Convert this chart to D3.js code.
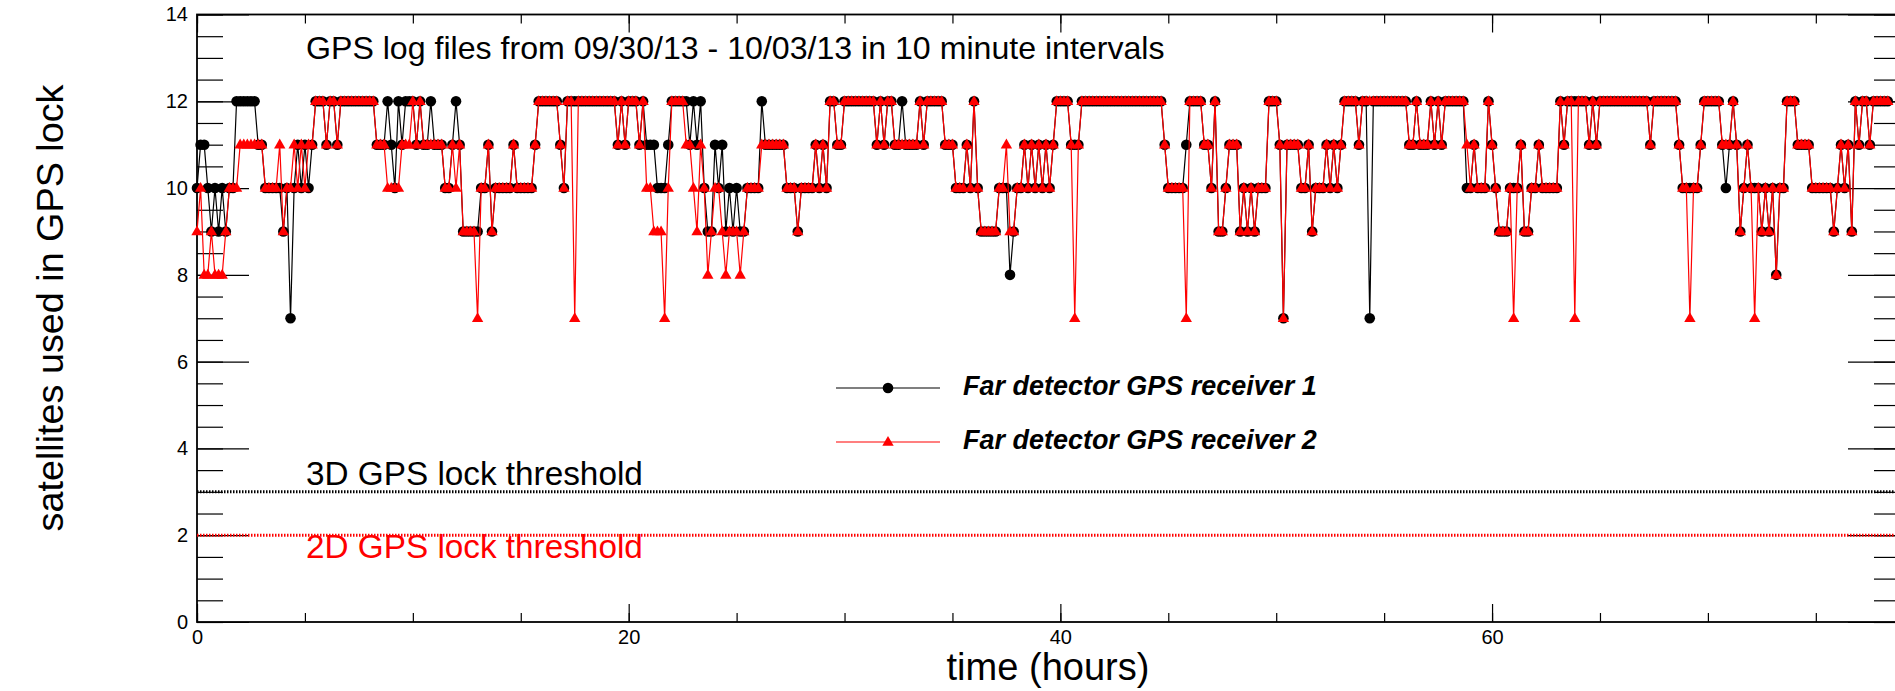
<!DOCTYPE html>
<html>
<head>
<meta charset="utf-8">
<script src="https://cdnjs.cloudflare.com/ajax/libs/d3/7.8.5/d3.min.js"></script>
<style>
  body { margin: 0; background: #fff; overflow: hidden; }
  text { font-family: "Liberation Sans", Arial, Helvetica, sans-serif; }
</style>
</head>
<body>
<script>
// satellites used in GPS lock, read every 10 minutes (1/6 hour) for ~78 hours
const stepHours = 1 / 6;

// Far detector GPS receiver 1 (black circles)
const receiver1 = [
  10,11,11,10,9,10,9,10,9,10,10,12,
  12,12,12,12,12,11,11,10,10,10,10,10,
  9,10,7,10,11,10,11,10,11,12,12,12,
  11,12,12,11,12,12,12,12,12,12,12,12,
  12,12,11,11,11,12,11,10,12,11,12,12,
  12,11,12,11,11,12,11,11,11,10,10,11,
  12,11,9,9,9,9,9,10,10,11,9,10,
  10,10,10,10,11,10,10,10,10,10,11,12,
  12,12,12,12,12,11,10,12,12,12,12,12,
  12,12,12,12,12,12,12,12,12,11,12,11,
  12,12,12,11,12,11,11,11,10,10,10,11,
  12,12,12,12,12,11,12,11,12,10,9,9,
  11,10,11,9,10,9,10,9,9,10,10,10,
  10,12,11,11,11,11,11,11,10,10,10,9,
  10,10,10,10,11,10,11,10,12,12,11,11,
  12,12,12,12,12,12,12,12,12,11,12,11,
  12,12,11,11,12,11,11,11,11,12,11,12,
  12,12,12,12,11,11,11,10,10,10,11,10,
  12,10,9,9,9,9,9,10,10,10,8,9,
  10,10,11,10,11,10,11,10,11,10,11,12,
  12,12,12,11,11,11,12,12,12,12,12,12,
  12,12,12,12,12,12,12,12,12,12,12,12,
  12,12,12,12,12,11,10,10,10,10,10,11,
  12,12,12,12,11,11,10,12,9,9,10,11,
  11,11,9,10,9,10,9,10,10,10,12,12,
  12,11,7,11,11,11,11,10,10,11,9,10,
  10,10,11,10,11,10,11,12,12,12,12,11,
  12,12,7,12,12,12,12,12,12,12,12,12,
  12,11,11,12,11,11,11,12,11,12,11,12,
  12,12,12,12,12,10,10,11,10,10,10,12,
  11,10,9,9,9,10,10,10,11,9,9,10,
  10,11,10,10,10,10,10,12,11,12,12,12,
  12,12,12,11,12,11,12,12,12,12,12,12,
  12,12,12,12,12,12,12,12,11,12,12,12,
  12,12,12,12,11,10,10,10,10,10,11,12,
  12,12,12,12,11,10,11,12,11,9,10,11,
  10,10,10,9,10,9,10,8,10,10,12,12,
  12,11,11,11,11,10,10,10,10,10,10,9,
  10,11,10,11,9,12,11,12,12,11,12,12,
  12,12,12
];

// Far detector GPS receiver 2 (red triangles)
const receiver2 = [
  9,10,8,8,9,8,8,8,9,10,10,10,
  11,11,11,11,11,11,11,10,10,10,10,11,
  9,10,10,11,10,11,10,11,11,12,12,12,
  11,12,12,11,12,12,12,12,12,12,12,12,
  12,12,11,11,11,10,10,10,10,11,11,11,
  12,11,12,11,11,11,11,11,11,10,10,11,
  10,11,9,9,9,9,7,10,10,11,9,10,
  10,10,10,10,11,10,10,10,10,10,11,12,
  12,12,12,12,12,11,10,12,12,7,12,12,
  12,12,12,12,12,12,12,12,12,11,12,11,
  12,12,12,11,12,10,10,9,9,9,7,10,
  12,12,12,12,11,11,10,9,11,10,8,9,
  10,10,9,8,9,9,9,8,9,10,10,10,
  10,11,11,11,11,11,11,11,10,10,10,9,
  10,10,10,10,11,10,11,10,12,12,11,11,
  12,12,12,12,12,12,12,12,12,11,12,11,
  12,12,11,11,11,11,11,11,11,12,11,12,
  12,12,12,12,11,11,11,10,10,10,11,10,
  12,10,9,9,9,9,9,10,10,11,9,9,
  10,10,11,10,11,10,11,10,11,10,11,12,
  12,12,12,11,7,11,12,12,12,12,12,12,
  12,12,12,12,12,12,12,12,12,12,12,12,
  12,12,12,12,12,11,10,10,10,10,10,7,
  12,12,12,12,11,11,10,12,9,9,10,11,
  11,11,9,10,9,10,9,10,10,10,12,12,
  12,11,7,11,11,11,11,10,10,11,9,10,
  10,10,11,10,11,10,11,12,12,12,12,11,
  12,12,12,12,12,12,12,12,12,12,12,12,
  12,11,11,12,11,11,11,12,11,12,11,12,
  12,12,12,12,12,11,10,11,10,10,10,12,
  11,10,9,9,9,10,7,10,11,9,9,10,
  10,11,10,10,10,10,10,12,11,12,12,7,
  12,12,12,11,12,11,12,12,12,12,12,12,
  12,12,12,12,12,12,12,12,11,12,12,12,
  12,12,12,12,11,10,10,7,10,10,11,12,
  12,12,12,12,11,11,11,12,11,9,10,11,
  10,7,10,9,10,9,10,8,10,10,12,12,
  12,11,11,11,11,10,10,10,10,10,10,9,
  10,11,10,11,9,12,11,12,12,11,12,12,
  12,12,12
];

const seriesNames = ['Far detector GPS receiver 1', 'Far detector GPS receiver 2'];
const thresholdValues = [3, 2];
const thresholdLabels = ['3D GPS lock threshold', '2D GPS lock threshold'];
const xTickValues = [0, 20, 40, 60];
const yTickValues = [0, 2, 4, 6, 8, 10, 12, 14];

const width = 1895, height = 691;
// frame of the plot; the right edge sits just outside the window like in the original
const frame = {left: 197, top: 14.5, right: 1900, bottom: 622};

const svg = d3.select('body').append('svg')
  .attr('width', width)
  .attr('height', height);

const x = d3.scaleLinear().domain([0, 78.9]).range([frame.left, frame.right]);
const y = d3.scaleLinear().domain([0, 14]).range([frame.bottom, frame.top]);

// shrink or grow a text so it spans a given width
function fitWidth(sel, w) {
  const fs = parseFloat(sel.attr('font-size'));
  const len = sel.node().getComputedTextLength();
  sel.attr('font-size', fs * w / len);
}

// ---- axes, ROOT style: ticks drawn inwards on all four sides ----
function styleAxis(g) {
  g.select('.domain').remove();
  g.selectAll('line').attr('stroke', 'black').attr('stroke-width', 1.2);
  g.selectAll('text').attr('font-size', 20).attr('fill', 'black')
    .style('font-family', '"Liberation Sans", Arial, sans-serif');
}

const xMinor = d3.range(0, 79, 5);
const yMinor = d3.range(0, 14.01, 0.5);

svg.append('g').attr('transform', `translate(0,${frame.bottom})`)
  .call(d3.axisBottom(x).tickValues(xMinor).tickSize(-9).tickFormat(''))
  .call(styleAxis);
svg.append('g').attr('transform', `translate(0,${frame.bottom})`)
  .call(d3.axisBottom(x).tickValues(xTickValues).tickSize(-18).tickPadding(8).tickFormat(d3.format('d')))
  .call(styleAxis);
svg.append('g').attr('transform', `translate(0,${frame.top})`)
  .call(d3.axisTop(x).tickValues(xMinor).tickSize(-9).tickFormat(''))
  .call(styleAxis);
svg.append('g').attr('transform', `translate(0,${frame.top})`)
  .call(d3.axisTop(x).tickValues(xTickValues).tickSize(-18).tickFormat(''))
  .call(styleAxis);

svg.append('g').attr('transform', `translate(${frame.left},0)`)
  .call(d3.axisLeft(y).tickValues(yMinor).tickSize(-26).tickFormat(''))
  .call(styleAxis);
svg.append('g').attr('transform', `translate(${frame.left},0)`)
  .call(d3.axisLeft(y).tickValues(yTickValues).tickSize(-52).tickPadding(9).tickFormat(d3.format('d')))
  .call(styleAxis);
svg.append('g').attr('transform', `translate(${frame.right},0)`)
  .call(d3.axisRight(y).tickValues(yMinor).tickSize(-26).tickFormat(''))
  .call(styleAxis);
svg.append('g').attr('transform', `translate(${frame.right},0)`)
  .call(d3.axisRight(y).tickValues(yTickValues).tickSize(-52).tickFormat(''))
  .call(styleAxis);

// frame box
svg.append('rect')
  .attr('x', frame.left).attr('y', frame.top)
  .attr('width', frame.right - frame.left)
  .attr('height', frame.bottom - frame.top)
  .attr('fill', 'none').attr('stroke', 'black').attr('stroke-width', 1.8);

// axis titles
const xTitle = svg.append('text')
  .attr('x', 1048).attr('y', 680)
  .attr('text-anchor', 'middle')
  .attr('font-size', 28)
  .text('time (hours)');
fitWidth(xTitle, 203);

const yTitle = svg.append('text')
  .attr('transform', 'translate(63,308) rotate(-90)')
  .attr('text-anchor', 'middle')
  .attr('font-size', 28)
  .text('satellites used in GPS lock');
fitWidth(yTitle, 447);

// title inside the frame
const title = svg.append('text')
  .attr('x', 306).attr('y', 59)
  .attr('font-size', 24)
  .text('GPS log files from 09/30/13 - 10/03/13 in 10 minute intervals');
fitWidth(title, 859);

// ---- GPS lock thresholds ----
const thresholdColors = ['black', 'red'];
const thresholdTextY = [485, 558];
thresholdValues.forEach((v, i) => {
  svg.append('line')
    .attr('x1', frame.left).attr('x2', frame.right)
    .attr('y1', y(v)).attr('y2', y(v))
    .attr('stroke', thresholdColors[i])
    .attr('stroke-width', 3)
    .attr('stroke-dasharray', '1.5,1.5');
  const t = svg.append('text')
    .attr('x', 306).attr('y', thresholdTextY[i])
    .attr('font-size', 24)
    .attr('fill', thresholdColors[i])
    .text(thresholdLabels[i]);
  fitWidth(t, 337);
});

// ---- data ----
const line = d3.line()
  .x((d, i) => x(i * stepHours))
  .y(d => y(d));

const triangle = d3.symbol().type(d3.symbolTriangle).size(56);

// receiver 1: black line + circles
svg.append('path')
  .datum(receiver1)
  .attr('d', line)
  .attr('fill', 'none')
  .attr('stroke', 'black')
  .attr('stroke-width', 1.2);
svg.append('g').selectAll('circle')
  .data(receiver1)
  .join('circle')
  .attr('cx', (d, i) => x(i * stepHours))
  .attr('cy', d => y(d))
  .attr('r', 5.3)
  .attr('fill', 'black');

// receiver 2: red line + triangles
svg.append('path')
  .datum(receiver2)
  .attr('d', line)
  .attr('fill', 'none')
  .attr('stroke', 'red')
  .attr('stroke-width', 1.2);
svg.append('g').selectAll('path')
  .data(receiver2)
  .join('path')
  .attr('d', triangle)
  .attr('transform', (d, i) => `translate(${x(i * stepHours)},${y(d) + 0.5})`)
  .attr('fill', 'red');

// ---- legend ----
const legendY = [388, 442];
const legend = svg.append('g');
seriesNames.forEach((name, i) => {
  const color = i === 0 ? 'black' : 'red';
  legend.append('line')
    .attr('x1', 836).attr('x2', 940)
    .attr('y1', legendY[i]).attr('y2', legendY[i])
    .attr('stroke', color).attr('stroke-width', 1.2);
  if (i === 0) {
    legend.append('circle').attr('cx', 888).attr('cy', legendY[i]).attr('r', 5.3).attr('fill', color);
  } else {
    legend.append('path').attr('d', triangle)
      .attr('transform', `translate(888,${legendY[i] + 0.5})`).attr('fill', color);
  }
  const t = legend.append('text')
    .attr('x', 963).attr('y', legendY[i] + 7)
    .attr('font-size', 20)
    .attr('font-weight', 'bold')
    .attr('font-style', 'italic')
    .text(name);
  fitWidth(t, 354);
});
</script>
</body>
</html>
